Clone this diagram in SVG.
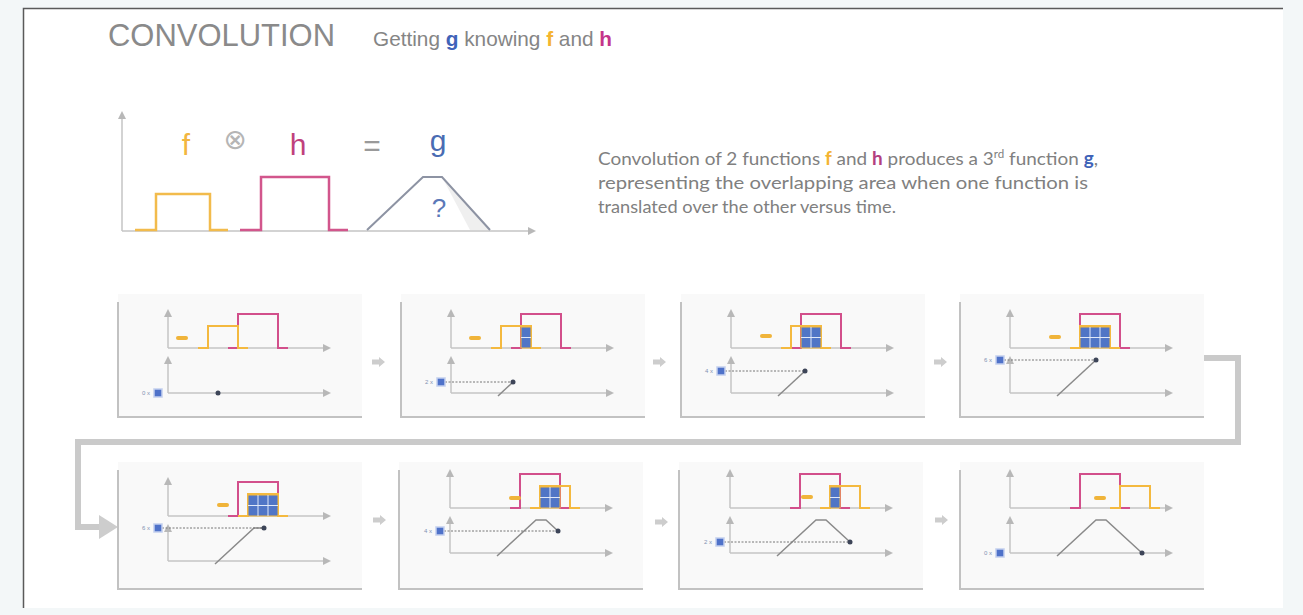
<svg xmlns="http://www.w3.org/2000/svg" width="1303" height="615" viewBox="0 0 1303 615">
<defs>
<marker id="ah" viewBox="0 0 10 10" refX="0" refY="5" markerWidth="9" markerHeight="8" orient="auto" markerUnits="userSpaceOnUse"><path d="M0,0 L10,5 L0,10 z" fill="#b8b8b8"/></marker>
<style>
.ax{stroke:#c4c4c4;stroke-width:1.5;fill:none;marker-end:url(#ah)}
.fr{stroke:#c2c2c2;stroke-width:2;fill:none}
.bg{fill:#f9f9f9}
.po{stroke:#f4b93f;stroke-width:2;fill:none}
.pm{stroke:#d24f8b;stroke-width:2;fill:none}
.grd{fill:#5075c6;stroke:#f4b93f;stroke-width:1}
.gl{stroke:#dfe8f8;stroke-width:1}
.dash{fill:#f0b43a}
.sq{fill:#4f72c9;stroke:#c3d0ee;stroke-width:1.5}
.lbl{font-family:"Liberation Sans",Arial,sans-serif;font-size:6px;fill:#8391b3}
.dl{stroke:#777;stroke-width:1;stroke-dasharray:2 1.5;fill:none}
.gc{stroke:#8a8a8a;stroke-width:1.5;fill:none}
.dot{fill:#3d4558}
.conn{stroke:#cacaca;stroke-width:6;fill:none}
.sa{fill:#cdcdcd}
.t{font-family:"Liberation Sans",Arial,sans-serif}
.d{font-family:Lato,"Liberation Sans",sans-serif;font-size:18px;fill:#808080}
</style>
</defs>
<rect x="0" y="0" width="1303" height="615" fill="#f3f7f8"/>
<rect x="23" y="8" width="1260" height="600" fill="#ffffff"/>
<path d="M23.5,608 V8.5 H1283" stroke="#5a5a5a" stroke-width="1.5" fill="none"/>

<g id="title">
<text class="t" x="108" y="46" font-size="31" fill="#8a8a8a" textLength="227" lengthAdjust="spacingAndGlyphs">CONVOLUTION</text>
<text class="t" x="373" y="46" font-size="21" fill="#858585" textLength="239" lengthAdjust="spacingAndGlyphs">Getting <tspan font-weight="bold" fill="#3f63b8">g</tspan> knowing <tspan font-weight="bold" fill="#f4b431">f</tspan> and <tspan font-weight="bold" fill="#c4358a">h</tspan></text>
</g>

<g id="equation">
<path class="ax" d="M122,231 V119"/>
<path class="ax" d="M122,231 H528"/>
<path d="M135,230 H156 V194 H210 V230 H228" stroke="#f2bb4c" stroke-width="2.5" fill="none"/>
<path d="M240,230 H261 V177 H329 V230 H348" stroke="#d2568c" stroke-width="2.5" fill="none"/>
<path d="M442,177 L490,230 H470 Z" fill="#efefef"/>
<path d="M367,230 L423,177 H442 L490,230" stroke="#8d93a3" stroke-width="2" fill="none"/>
<text class="t" x="186" y="155" font-size="30" fill="#f2b640" text-anchor="middle">f</text>
<text x="235" y="149" font-family="DejaVu Sans,sans-serif" font-size="28" fill="#b5b5b5" text-anchor="middle">⊗</text>
<text class="t" x="298" y="155" font-size="30" fill="#c0417d" text-anchor="middle">h</text>
<text class="t" x="372" y="156" font-size="30" fill="#9a9a9a" text-anchor="middle">=</text>
<text class="t" x="438" y="151" font-size="30" fill="#4a6cb3" text-anchor="middle">g</text>
<text class="t" x="439" y="217" font-size="26" fill="#5b78b8" text-anchor="middle">?</text>
</g>

<g id="description">
<text class="d" x="598" y="165" textLength="500" lengthAdjust="spacingAndGlyphs">Convolution of 2 functions <tspan font-weight="bold" fill="#f4b431">f</tspan> and <tspan font-weight="bold" fill="#b3407f">h</tspan> produces a 3<tspan font-size="11" dy="-7">rd</tspan><tspan dy="7"> function </tspan><tspan font-weight="bold" fill="#3f63b8">g</tspan>,</text>
<text class="d" x="598" y="189" textLength="490" lengthAdjust="spacingAndGlyphs">representing the overlapping area when one function is</text>
<text class="d" x="598" y="213" textLength="298" lengthAdjust="spacingAndGlyphs">translated over the other versus time.</text>
</g>

<g id="connectors">
<path class="conn" d="M1200,358 H1238 V442 H78 V527 H100"/>
<polygon class="sa" points="99,515 118,527 99,539"/>
<polygon class="sa" points="372,359.5 379,359.5 379,357 385,362 379,367 379,364.5 372,364.5"/>
<polygon class="sa" points="653,359.5 660,359.5 660,357 666,362 660,367 660,364.5 653,364.5"/>
<polygon class="sa" points="934,359.5 941,359.5 941,357 947,362 941,367 941,364.5 934,364.5"/>
<polygon class="sa" points="373,517.5 380,517.5 380,515 386,520 380,525 380,522.5 373,522.5"/>
<polygon class="sa" points="655,519.5 662,519.5 662,517 668,522 662,527 662,524.5 655,524.5"/>
<polygon class="sa" points="935,517.5 942,517.5 942,515 948,520 942,525 942,522.5 935,522.5"/>
</g>

<!-- Row 1 -->
<g id="step1">
<rect class="bg" x="118" y="294" width="244" height="123"/>
<path class="fr" d="M118,302 V417 H362"/>
<g transform="translate(118,297)">
<path class="ax" d="M50,51 H205"/><path class="ax" d="M50,51 V20"/>
<path class="ax" d="M50,96 H205"/><path class="ax" d="M50,96 V67"/>
<path class="pm" d="M110,51 H120 V17 H160 V51 H170"/>
<path class="po" d="M80,51 H90 V29 H120 V51 H130"/>
<rect class="dash" x="58" y="39" width="12" height="4" rx="2"/>
<text class="lbl" x="32" y="98" text-anchor="end">0 x</text>
<rect class="sq" x="36" y="92" width="8" height="8"/>
<circle class="dot" cx="100" cy="96" r="2.5"/>
</g>
</g>

<g id="step2">
<rect class="bg" x="401" y="294" width="244" height="123"/>
<path class="fr" d="M401,302 V417 H645"/>
<g transform="translate(401,297)">
<path class="ax" d="M50,51 H205"/><path class="ax" d="M50,51 V20"/>
<path class="ax" d="M50,96 H205"/><path class="ax" d="M50,96 V67"/>
<path class="pm" d="M110,51 H120 V17 H160 V51 H170"/>
<path class="po" d="M90,51 H100 V29 H130 V51 H140"/>
<rect class="grd" x="120" y="30" width="10" height="21"/>
<path class="gl" d="M120,40.5 H130"/>
<rect class="dash" x="68" y="39" width="12" height="4" rx="2"/>
<path class="gc" d="M97,99 L112,85"/>
<path class="dl" d="M44,85 H112"/>
<text class="lbl" x="32" y="87" text-anchor="end">2 x</text>
<rect class="sq" x="36" y="81" width="8" height="8"/>
<circle class="dot" cx="112" cy="85" r="2.5"/>
</g>
</g>

<g id="step3">
<rect class="bg" x="681" y="294" width="244" height="123"/>
<path class="fr" d="M681,302 V417 H925"/>
<g transform="translate(681,297)">
<path class="ax" d="M50,51 H205"/><path class="ax" d="M50,51 V20"/>
<path class="ax" d="M50,96 H205"/><path class="ax" d="M50,96 V67"/>
<path class="pm" d="M110,51 H120 V17 H160 V51 H170"/>
<path class="po" d="M100,51 H110 V29 H140 V51 H150"/>
<rect class="grd" x="120" y="30" width="20" height="21"/>
<path class="gl" d="M120,40.5 H140 M130,30 V51"/>
<rect class="dash" x="79" y="37" width="12" height="4" rx="2"/>
<path class="gc" d="M97,99 L124,74"/>
<path class="dl" d="M44,74 H124"/>
<text class="lbl" x="32" y="76" text-anchor="end">4 x</text>
<rect class="sq" x="36" y="70" width="8" height="8"/>
<circle class="dot" cx="124" cy="74" r="2.5"/>
</g>
</g>

<g id="step4">
<rect class="bg" x="960" y="294" width="244" height="123"/>
<path class="fr" d="M960,302 V417 H1204"/>
<g transform="translate(960,297)">
<path class="ax" d="M50,51 H205"/><path class="ax" d="M50,51 V20"/>
<path class="ax" d="M50,96 H205"/><path class="ax" d="M50,96 V67"/>
<path class="pm" d="M110,51 H120 V17 H160 V51 H170"/>
<path class="po" d="M110,51 H120 V29 H150 V51 H160"/>
<rect class="grd" x="120" y="30" width="30" height="21"/>
<path class="gl" d="M120,40.5 H150 M130,30 V51 M140,30 V51"/>
<rect class="dash" x="89" y="38" width="12" height="4" rx="2"/>
<path class="gc" d="M97,99 L136,63"/>
<path class="dl" d="M44,63 H136"/>
<text class="lbl" x="32" y="65" text-anchor="end">6 x</text>
<rect class="sq" x="36" y="59" width="8" height="8"/>
<circle class="dot" cx="136" cy="63" r="2.5"/>
</g>
</g>

<!-- Row 2 -->
<g id="step5">
<rect class="bg" x="118" y="462" width="244" height="127"/>
<path class="fr" d="M118,470 V589 H362"/>
<g transform="translate(118,465)">
<path class="ax" d="M50,51 H205"/><path class="ax" d="M50,51 V20"/>
<path class="ax" d="M50,96 H205"/><path class="ax" d="M50,96 V67"/>
<path class="pm" d="M110,51 H120 V17 H160 V51 H170"/>
<path class="po" d="M120,51 H130 V29 H160 V51 H170"/>
<rect class="grd" x="130" y="30" width="30" height="21"/>
<path class="gl" d="M130,40.5 H160 M140,30 V51 M150,30 V51"/>
<rect class="dash" x="99" y="38" width="12" height="4" rx="2"/>
<path class="gc" d="M97,99 L136,63 H146"/>
<path class="dl" d="M44,63 H146"/>
<text class="lbl" x="32" y="65" text-anchor="end">6 x</text>
<rect class="sq" x="36" y="59" width="8" height="8"/>
<circle class="dot" cx="146" cy="63" r="2.5"/>
</g>
</g>

<g id="step6">
<rect class="bg" x="399" y="462" width="244" height="127"/>
<path class="fr" d="M399,470 V589 H643"/>
<g transform="translate(400,457)">
<path class="ax" d="M50,51 H205"/><path class="ax" d="M50,51 V20"/>
<path class="ax" d="M50,96 H205"/><path class="ax" d="M50,96 V67"/>
<path class="pm" d="M110,51 H120 V17 H160 V51 H170"/>
<path class="po" d="M130,51 H140 V29 H170 V51 H180"/>
<rect class="grd" x="140" y="30" width="20" height="21"/>
<path class="gl" d="M140,40.5 H160 M150,30 V51"/>
<rect class="dash" x="109" y="39" width="12" height="4" rx="2"/>
<path class="gc" d="M97,99 L136,63 H146 L158,74"/>
<path class="dl" d="M44,74 H158"/>
<text class="lbl" x="32" y="76" text-anchor="end">4 x</text>
<rect class="sq" x="36" y="70" width="8" height="8"/>
<circle class="dot" cx="158" cy="74" r="2.5"/>
</g>
</g>

<g id="step7">
<rect class="bg" x="679" y="462" width="244" height="127"/>
<path class="fr" d="M679,470 V589 H923"/>
<g transform="translate(680,457)">
<path class="ax" d="M50,51 H205"/><path class="ax" d="M50,51 V20"/>
<path class="ax" d="M50,96 H205"/><path class="ax" d="M50,96 V67"/>
<path class="pm" d="M110,51 H120 V17 H160 V51 H170"/>
<path class="po" d="M140,51 H150 V29 H180 V51 H190"/>
<rect class="grd" x="150" y="30" width="10" height="21"/>
<path class="gl" d="M150,40.5 H160"/>
<rect class="dash" x="121" y="38" width="12" height="4" rx="2"/>
<path class="gc" d="M97,99 L136,63 H146 L170,85"/>
<path class="dl" d="M44,85 H170"/>
<text class="lbl" x="32" y="87" text-anchor="end">2 x</text>
<rect class="sq" x="36" y="81" width="8" height="8"/>
<circle class="dot" cx="170" cy="85" r="2.5"/>
</g>
</g>

<g id="step8">
<rect class="bg" x="960" y="462" width="244" height="127"/>
<path class="fr" d="M960,470 V589 H1204"/>
<g transform="translate(960,457)">
<path class="ax" d="M50,51 H205"/><path class="ax" d="M50,51 V20"/>
<path class="ax" d="M50,96 H205"/><path class="ax" d="M50,96 V67"/>
<path class="pm" d="M110,51 H120 V17 H160 V51 H170"/>
<path class="po" d="M150,51 H160 V29 H190 V51 H200"/>
<rect class="dash" x="134" y="39" width="12" height="4" rx="2"/>
<path class="gc" d="M97,99 L136,63 H146 L182,96"/>
<text class="lbl" x="32" y="98" text-anchor="end">0 x</text>
<rect class="sq" x="36" y="92" width="8" height="8"/>
<circle class="dot" cx="182" cy="96" r="2.5"/>
</g>
</g>
</svg>
